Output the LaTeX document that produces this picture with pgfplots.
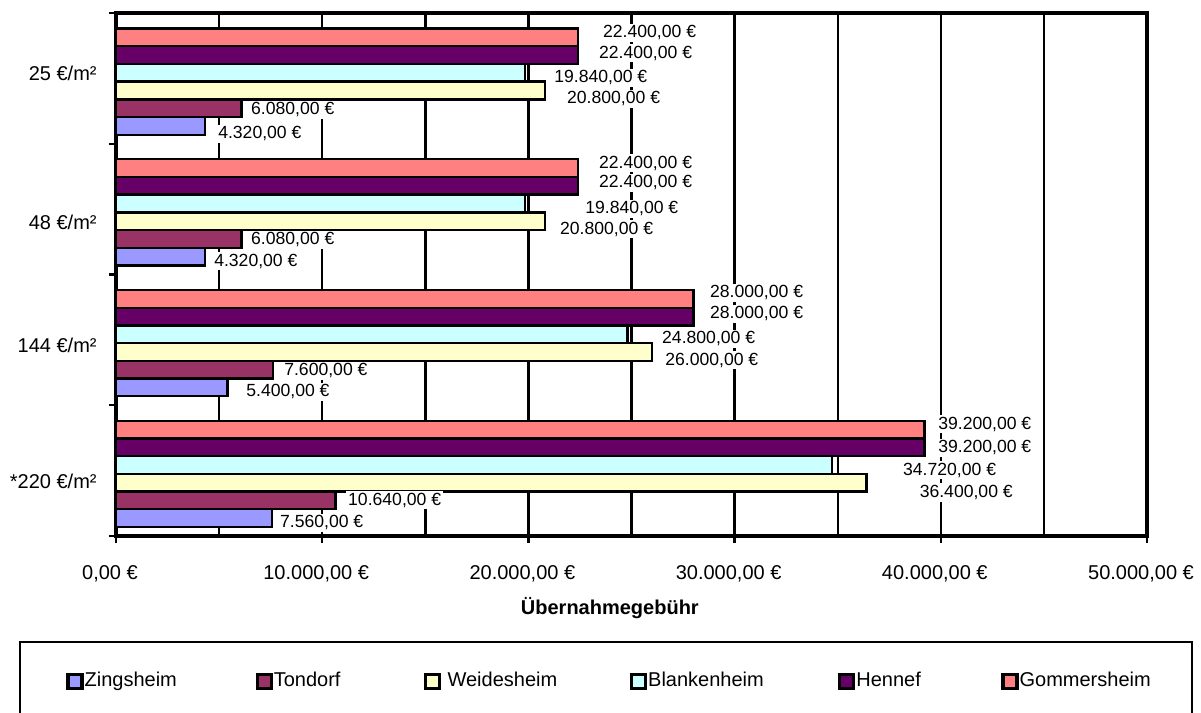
\documentclass[border=0pt]{standalone}
\usepackage{fontspec}
\setmainfont{Liberation Sans}
\usepackage{pgfplots}
\pgfplotsset{compat=1.18}

\definecolor{zing}{HTML}{9999FF}
\definecolor{tond}{HTML}{993366}
\definecolor{weid}{HTML}{FFFFCC}
\definecolor{blank}{HTML}{CCFFFF}
\definecolor{henn}{HTML}{660066}
\definecolor{gomm}{HTML}{FF8080}

\newcommand{\catlabel}[2]{\raisebox{#1}[0pt][0pt]{#2}}

\begin{document}
\begin{tikzpicture}
\useasboundingbox (0,0) rectangle (600.5bp,356.5bp);
\begin{axis}[
  at={(58bp,88.5bp)}, anchor=south west,
  scale only axis, width=515.5bp, height=261.5bp,
  font=\fontsize{10bp}{12bp}\selectfont,
  xbar, bar width=8.85bp,
  xmin=0, xmax=50000, ymin=-0.5, ymax=3.5,
  axis line style={line width=1.6bp},
  tick align=outside, xtick pos=bottom, ytick pos=left,
  major tick length=3.5bp, minor tick length=0pt,
  tick style={black, line width=1.2bp},
  scaled x ticks=false,
  xtick={0,10000,20000,30000,40000,50000},
  xticklabels={{0,00 €},{10.000,00 €},{20.000,00 €},{30.000,00 €},{40.000,00 €},{50.000,00 €}},
  xticklabel style={xshift=-3bp, yshift=-7.5bp},
  minor xtick={5000,15000,25000,35000,45000},
  xmajorgrids, xminorgrids,
  major grid style={black, line width=1.2bp},
  minor grid style={black, line width=1.2bp},
  ytick={-0.5,0.5,1.5,2.5,3.5},
  yticklabels={},
  extra y ticks={0,1,2,3},
  extra y tick labels={{\catlabel{-9.1bp}{*220 €/m²}},{\catlabel{-6.1bp}{144 €/m²}},{\catlabel{-10.1bp}{48 €/m²}},{\catlabel{-1.1bp}{25 €/m²}}},
  extra y tick style={major tick length=0pt, yticklabel style={anchor=east, inner sep=0pt, xshift=-9.5bp}},
  xlabel={\textbf{Übernahmegebühr}},
  xlabel style={at={(axis description cs:0.479,0)}, anchor=center, yshift=-36bp},
  point meta=x,
  visualization depends on={\thisrow{dx} \as \labeldx},
  visualization depends on={\thisrow{dy} \as \labeldy},
  nodes near coords={\pgfmathprintnumber[fixed, fixed zerofill, precision=2, use comma, 1000 sep={.}, assume math mode=true]{\pgfplotspointmeta}~€},
  nodes near coords align={horizontal},
  every node near coord/.append style={anchor=west, fill=white, text=black, inner sep=1bp,
    font=\fontsize{8.8bp}{10bp}\selectfont, xshift=\labeldx bp, yshift=\labeldy bp},
  legend columns=6,
  legend image code/.code={\draw[#1, line width=1.6bp] (0bp,-3.5bp) rectangle (7bp,3.5bp);},
  legend style={at={(-0.0931,-0.2027)}, anchor=north west, draw=none, fill=none,
    inner xsep=23bp, inner ysep=15bp, column sep=0pt, nodes={inner sep=0pt},
    font=\fontsize{10bp}{12bp}\selectfont},
]
% y: 0 = *220, 1 = 144, 2 = 48, 3 = 25; dx/dy place the value labels (bp)
\addplot[fill=zing, draw=black, line width=1.2bp, bar shift=-23.76bp] table [x=x, y=y] {
y x dx dy
0 7560 2.5 -2.4
1 5400 7.9 -2.2
2 4320 3.0 -2.2
3 4320 5.0 -4.0
};
\addlegendentry{\makebox[86bp][l]{\hspace{0.5bp}Zingsheim}}
\addplot[fill=tond, draw=black, line width=1.2bp, bar shift=-14.91bp] table [x=x, y=y] {
y x dx dy
0 10640 4.8 0.2
1 7600 4.2 -0.6
2 6080 3.3 -0.5
3 6080 3.3 -0.8
};
\addlegendentry{\makebox[75.5bp][l]{\hspace{0.5bp}Tondorf}}
\addplot[fill=weid, draw=black, line width=1.2bp, bar shift=-6.06bp] table [x=x, y=y] {
y x dx dy
0 36400 25.0 -5.0
1 26000 5.0 -4.0
2 20800 6.0 -3.9
3 20800 9.5 -4.2
};
\addlegendentry{\makebox[94.5bp][l]{\hspace{0.5bp} Weidesheim}}
\addplot[fill=blank, draw=black, line width=1.2bp, bar shift=2.79bp] table [x=x, y=y] {
y x dx dy
0 34720 34.0 -2.5
1 24800 15.8 -2.3
2 19840 28.5 -2.7
3 19840 13.0 -2.5
};
\addlegendentry{\makebox[95.5bp][l]{\hspace{0.5bp}Blankenheim}}
\addplot[fill=henn, draw=black, line width=1.2bp, bar shift=11.64bp] table [x=x, y=y] {
y x dx dy
0 39200 5.4 -0.3
1 28000 6.8 1.4
2 22400 9.0 1.5
3 22400 9.0 1.0
};
\addlegendentry{\makebox[73bp][l]{\hspace{0.5bp}Hennef}}
\addplot[fill=gomm, draw=black, line width=1.2bp, bar shift=20.50bp] table [x=x, y=y] {
y x dx dy
0 39200 5.4 2.8
1 28000 6.8 3.0
2 22400 9.0 2.5
3 22400 11.0 2.2
};
\addlegendentry{\makebox[63bp][l]{\hspace{0.5bp}Gommersheim}}
\end{axis}
% frame round the legend, open at the lower page edge
\draw[line width=1.2bp] (10bp,-3bp) rectangle (596bp,35.5bp);
\end{tikzpicture}
\end{document}
